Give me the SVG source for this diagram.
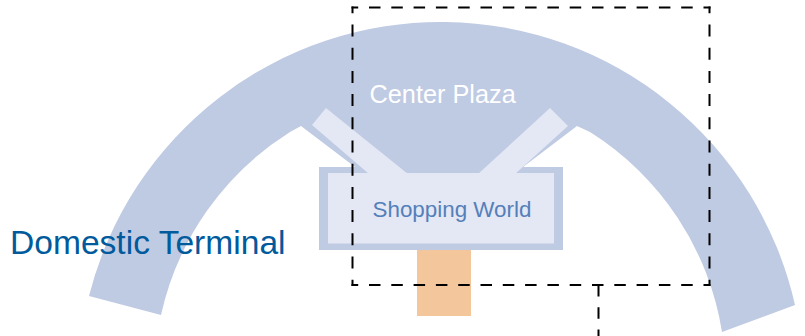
<svg xmlns="http://www.w3.org/2000/svg" width="805" height="336" viewBox="0 0 805 336">
<style>
text{font-family:"Liberation Sans",Arial,sans-serif}
.band{fill:#BFCAE3}
.light{fill:#E4E7F4}
.dash{fill:none;stroke:#000;stroke-width:2}
.h{stroke-dasharray:11.500 10.800;stroke-dashoffset:4.800}
.v{stroke-dasharray:12 11.200;stroke-dashoffset:5.200}
.s{stroke-dasharray:11.500 10.800}
</style>
<rect width="805" height="336" fill="#fff"/>
<g id="domestic-terminal">
<path class="band" d="M89 296A363 363 0 0 1 795 305L722 332A290 290 0 0 0 590 132L577 126L523 167H355L301 126L290 132A290 290 0 0 0 161 315Z"/>
<text x="10" y="254" font-size="33.6" fill="#005A9C">Domestic Terminal</text>
</g>
<g id="center-plaza">
<text x="369.500" y="103" font-size="25.300" fill="#fff">Center Plaza</text>
</g>
<g id="gate-connector">
<rect x="417" y="249" width="54" height="67" fill="#F4C69C"/>
</g>
<g id="shopping-world">
<rect class="band" x="319" y="167" width="244" height="83"/>
<rect class="light" x="328" y="173" width="226" height="70.500"/>
<polygon class="light" points="312,125 326,108 408,174 369,174"/>
<polygon class="light" points="550,108 568,126 515,174 478,174"/>
<text x="372.500" y="217" font-size="22.400" fill="#5480BA">Shopping World</text>
</g>
<g id="connectors">
<path class="dash h" d="M351.500 7.500H710.500M351.500 285H710.500"/>
<path class="dash v" d="M352.500 6.500V286M709.500 6.500V286"/>
<path class="dash s" d="M598.500 285V336"/>
</g>
</svg>
